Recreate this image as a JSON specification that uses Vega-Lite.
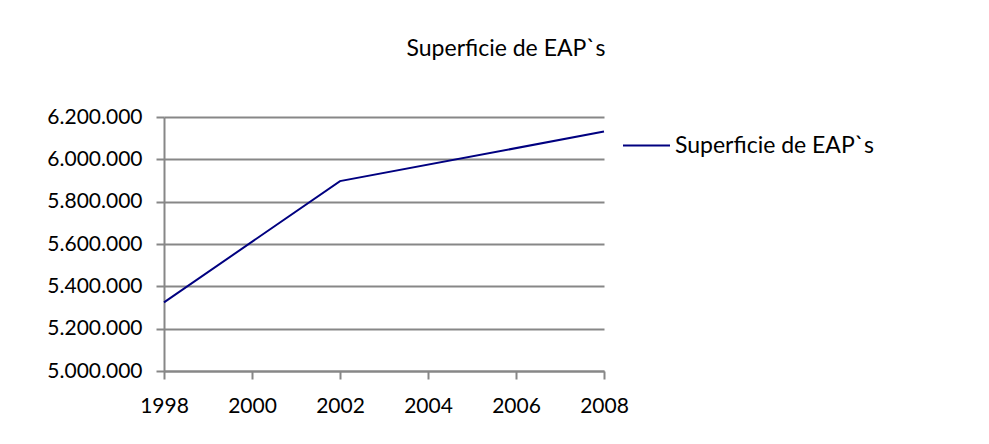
{
  "$schema": "https://vega.github.io/schema/vega-lite/v6.json",
  "width": 440,
  "height": 254,
  "autosize": {"type": "none"},
  "padding": {"left": 164, "top": 117, "right": 385, "bottom": 73},
  "background": "white",
  "config": {
    "locale": {"number": {"decimal": ",", "thousands": ".", "grouping": [3], "currency": ["", " €"]}},
    "view": {"stroke": null},
    "font": "Lato"
  },
  "title": {
    "text": "Superficie de EAP`s",
    "font": "Lato",
    "fontSize": 23,
    "fontWeight": "normal",
    "color": "black",
    "anchor": "middle",
    "dx": 122,
    "offset": 45
  },
  "data": {
    "values": [
      {"year": 1998, "value": 5324000, "serie": "Superficie de EAP`s"},
      {"year": 2002, "value": 5897000, "serie": "Superficie de EAP`s"},
      {"year": 2008, "value": 6131000, "serie": "Superficie de EAP`s"}
    ]
  },
  "mark": {"type": "line", "strokeWidth": 2},
  "encoding": {
    "x": {
      "field": "year",
      "type": "quantitative",
      "scale": {"domain": [1998, 2008], "nice": false, "zero": false},
      "axis": {
        "title": null,
        "values": [1998, 2000, 2002, 2004, 2006, 2008],
        "format": "d",
        "grid": false,
        "labelOverlap": false,
        "labelFlush": false,
        "domainColor": "#878787",
        "domainWidth": 2,
        "tickColor": "#878787",
        "tickWidth": 2,
        "tickSize": 8,
        "labelFont": "Lato",
        "labelFontSize": 21,
        "labelColor": "black",
        "labelPadding": 16
      }
    },
    "y": {
      "field": "value",
      "type": "quantitative",
      "scale": {"domain": [5000000, 6200000], "nice": false, "zero": false},
      "axis": {
        "title": null,
        "values": [5000000, 5200000, 5400000, 5600000, 5800000, 6000000, 6200000],
        "format": ",d",
        "grid": true,
        "labelOverlap": false,
        "labelFlush": false,
        "gridColor": "#878787",
        "gridWidth": 2,
        "domainColor": "#878787",
        "domainWidth": 2,
        "tickColor": "#878787",
        "tickWidth": 2,
        "tickSize": 8,
        "labelFont": "Lato",
        "labelFontSize": 21,
        "labelColor": "black",
        "labelPadding": 14
      }
    },
    "color": {
      "field": "serie",
      "type": "nominal",
      "scale": {"range": ["#000080"]},
      "legend": {
        "title": null,
        "orient": "right",
        "offset": 10,
        "padding": 4,
        "symbolType": "stroke",
        "symbolSize": 2209,
        "symbolStrokeWidth": 2,
        "labelFont": "Lato",
        "labelFontSize": 23,
        "labelColor": "black",
        "labelOffset": 4,
        "labelLimit": 400
      }
    }
  }
}
